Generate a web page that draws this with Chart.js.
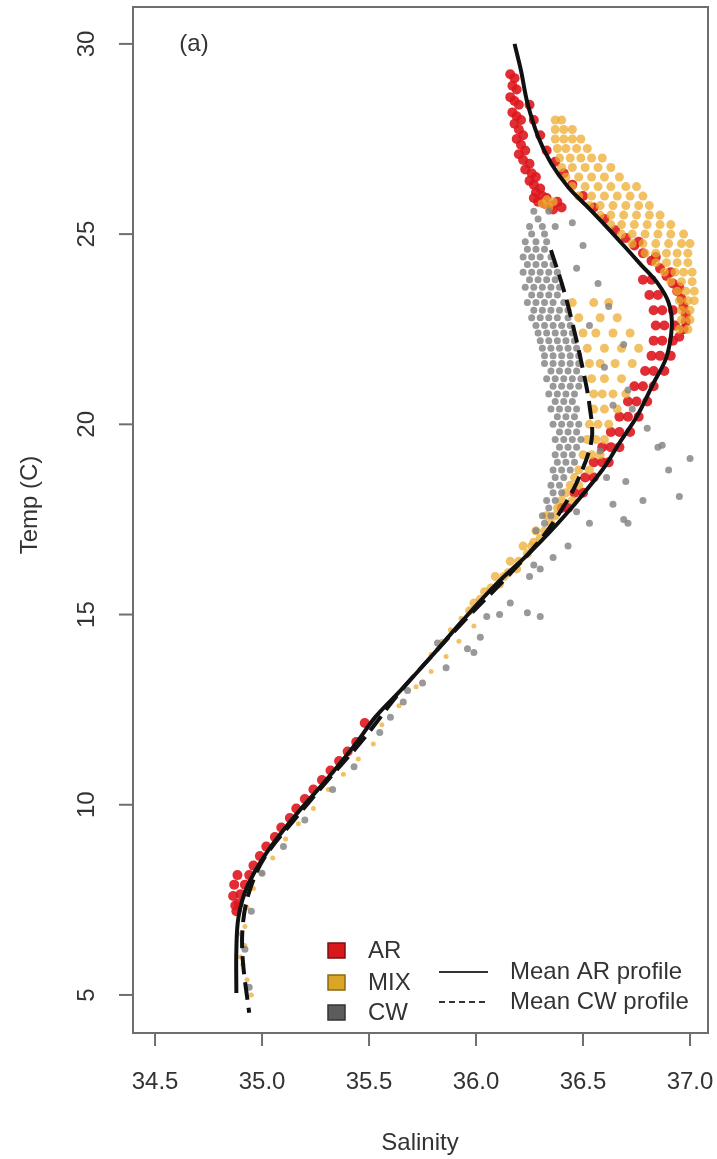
<!DOCTYPE html>
<html>
<head>
<meta charset="utf-8">
<title>T-S diagram (a)</title>
<script src="https://cdn.jsdelivr.net/npm/chart.js@4.4.1/dist/chart.umd.min.js"></script>
<style>
  html, body { margin: 0; padding: 0; background: #fff; }
</style>
</head>
<body>
<canvas id="ts" width="717" height="1159"></canvas>
<script>
// axis ticks
const xTicks = [34.5, 35.0, 35.5, 36.0, 36.5, 37.0];
const yTicks = [5, 10, 15, 20, 25, 30];
const groupNames = ['AR', 'MIX', 'CW'];
const profileNames = ['Mean AR profile', 'Mean CW profile'];

const arObs = [
  [36.16,29.2],[36.18,29.1],[36.17,28.9],[36.19,28.8],[36.16,28.6],[36.18,28.5],[36.20,28.4],[36.17,28.2],
  [36.19,28.1],[36.21,28.0],[36.18,27.9],[36.20,27.75],[36.22,27.6],[36.19,27.5],[36.21,27.35],[36.23,27.2],
  [36.20,27.1],[36.22,26.95],[36.25,26.85],[36.23,26.7],[36.26,26.6],[36.28,26.5],[36.25,26.4],[36.27,26.3],
  [36.30,26.2],[36.28,26.1],[36.31,26.0],[36.33,25.95],[36.29,25.85],[36.32,25.8],[36.35,25.75],[36.38,25.85],
  [36.40,25.7],[36.36,25.65],[36.27,25.95],
  [36.25,28.4],[36.27,28.0],[36.30,27.6],[36.33,27.2],[36.37,26.9],[36.41,26.6],[36.45,26.3],[36.50,26.0],
  [36.55,25.7],[36.60,25.4],[36.65,25.1],
  [36.70,24.9],[36.74,24.7],[36.78,24.5],[36.82,24.3],[36.86,24.1],[36.89,23.9],[36.92,23.7],[36.94,23.5],
  [36.96,23.3],[36.97,23.1],[36.98,22.9],[36.98,22.7],[36.97,22.5],[36.95,22.3],[36.76,24.8],[36.84,24.4],
  [36.91,24.0],[36.95,23.6],
  [36.78,23.8],[36.82,23.8],[36.81,23.4],[36.85,23.4],[36.83,23.0],[36.87,23.0],[36.92,23.0],
  [36.84,22.6],[36.88,22.6],[36.93,22.6],[36.83,22.2],[36.87,22.2],[36.92,22.2],[36.82,21.8],[36.86,21.8],
  [36.91,21.8],[36.79,21.4],[36.83,21.4],[36.88,21.4],[36.74,21.0],[36.78,21.0],[36.83,21.0],[36.71,20.6],
  [36.75,20.6],[36.80,20.6],[36.67,20.2],[36.71,20.2],[36.76,20.2],[36.63,19.8],[36.67,19.8],[36.72,19.8],
  [36.59,19.4],[36.63,19.4],[36.67,19.4],[36.55,19.0],[36.59,19.0],[36.62,19.0],[36.51,18.6],[36.55,18.6],
  [36.46,18.2],[36.50,18.2],[36.40,17.8],[36.43,17.8],
  [35.48,12.15],[35.44,11.65],[35.40,11.4],[35.36,11.15],[35.32,10.9],[35.28,10.65],[35.24,10.4],[35.20,10.15],
  [35.16,9.9],[35.13,9.65],[35.09,9.4],[35.06,9.15],[35.02,8.9],[34.99,8.65],[34.96,8.4],[34.94,8.15],
  [34.92,7.9],[34.90,7.65],[34.89,7.4],[34.88,7.2],[34.865,7.6],[34.87,7.9],[34.885,8.15],[34.875,7.35]
];

const mixObs = [
  [36.37,28.0],[36.40,28.0],[36.37,27.75],[36.41,27.75],[36.45,27.75],
  [36.37,27.5],[36.41,27.5],[36.45,27.5],[36.49,27.5],
  [36.38,27.25],[36.42,27.25],[36.47,27.25],[36.52,27.25],
  [36.39,27.0],[36.44,27.0],[36.49,27.0],[36.54,27.0],[36.59,27.0],
  [36.40,26.75],[36.45,26.75],[36.51,26.75],[36.57,26.75],[36.63,26.75],
  [36.42,26.5],[36.48,26.5],[36.54,26.5],[36.60,26.5],[36.67,26.5],
  [36.45,26.25],[36.51,26.25],[36.57,26.25],[36.63,26.25],[36.70,26.25],[36.75,26.25],
  [36.48,26.0],[36.54,26.0],[36.60,26.0],[36.66,26.0],[36.72,26.0],[36.78,26.0],
  [36.53,25.75],[36.58,25.75],[36.64,25.75],[36.70,25.75],[36.76,25.75],[36.81,25.75],
  [36.58,25.5],[36.63,25.5],[36.69,25.5],[36.75,25.5],[36.81,25.5],[36.86,25.5],
  [36.63,25.25],[36.68,25.25],[36.74,25.25],[36.80,25.25],[36.86,25.25],[36.91,25.25],
  [36.68,25.0],[36.73,25.0],[36.79,25.0],[36.85,25.0],[36.91,25.0],[36.97,25.0],
  [36.73,24.75],[36.78,24.75],[36.84,24.75],[36.90,24.75],[36.96,24.75],[37.00,24.75],
  [36.79,24.5],[36.84,24.5],[36.89,24.5],[36.94,24.5],[36.99,24.5],
  [36.84,24.25],[36.89,24.25],[36.94,24.25],[36.99,24.25],
  [36.88,24.0],[36.93,24.0],[36.97,24.0],[37.01,24.0],
  [36.91,23.75],[36.96,23.75],[37.01,23.75],[36.94,23.5],[36.98,23.5],[37.02,23.5],
  [36.95,23.25],[36.99,23.25],[37.02,23.25],[36.96,23.0],[37.00,23.0],[36.96,22.75],[37.00,22.75],
  [36.95,22.5],[36.99,22.5],
  [36.31,25.8],[36.34,25.7],[36.33,25.9],[36.36,25.85],
  [36.45,23.2],[36.55,23.2],[36.62,23.2],[36.48,22.8],[36.58,22.8],[36.66,22.8],
  [36.50,22.4],[36.56,22.4],[36.64,22.4],[36.72,22.4],[36.52,22.0],[36.60,22.0],[36.68,22.0],[36.76,22.0],
  [36.53,21.6],[36.58,21.6],[36.65,21.6],[36.73,21.6],[36.54,21.2],[36.60,21.2],[36.68,21.2],
  [36.55,20.8],[36.59,20.8],[36.64,20.8],[36.70,20.8],[36.55,20.4],[36.60,20.4],[36.66,20.4],
  [36.53,20.0],[36.57,20.0],[36.62,20.0],[36.52,19.6],[36.56,19.6],[36.60,19.6],
  [36.50,19.2],[36.54,19.2],[36.58,19.2],[36.48,18.8],[36.53,18.8],[36.44,18.4],[36.48,18.4],
  [36.40,18.0],[36.45,18.0],[36.33,17.6],[36.37,17.6],[36.28,17.2],[36.32,17.2],
  [36.22,16.8],[36.26,16.8],[36.16,16.4],[36.20,16.4],[36.09,16.0],[36.13,16.0],[36.04,15.6],[35.99,15.3],
  [36.46,18.6],[36.42,18.2],[36.38,17.8],[36.35,17.4],[36.30,17.0],[36.27,16.9],[36.24,16.6],[36.19,16.2],
  [36.15,16.1],[36.11,15.8],[36.07,15.7],[36.02,15.4],[35.97,15.1],[35.93,14.9],[35.88,14.6],[35.84,14.3],
  [35.79,13.95],
  [35.99,14.7],[35.92,14.3],[35.86,13.9],[35.79,13.5],[35.72,13.1],[35.64,12.6],[35.56,12.1],[35.52,11.6],
  [35.45,11.2],[35.38,10.8],[35.31,10.4],[35.24,9.9],[35.17,9.5],[35.11,9.1],[35.05,8.6],[35.00,8.2],
  [34.96,7.8],[34.93,7.3],[34.92,6.8],[34.92,6.3],[34.91,5.8],[34.93,5.4],[34.95,5.0],[34.89,6.6],[34.90,6.0]
];

const cwObs = [
  [36.27,25.6],[36.34,25.6],[36.25,25.2],[36.31,25.2],[36.37,25.2],[36.23,24.8],[36.28,24.8],[36.33,24.8],
  [36.22,24.4],[36.26,24.4],[36.30,24.4],[36.35,24.4],
  [36.22,24.0],[36.26,24.0],[36.30,24.0],[36.34,24.0],[36.38,24.0],
  [36.23,23.6],[36.27,23.6],[36.31,23.6],[36.35,23.6],[36.39,23.6],
  [36.24,23.2],[36.28,23.2],[36.32,23.2],[36.36,23.2],[36.41,23.2],
  [36.26,22.8],[36.30,22.8],[36.34,22.8],[36.38,22.8],[36.43,22.8],
  [36.29,22.4],[36.33,22.4],[36.37,22.4],[36.41,22.4],[36.45,22.4],
  [36.31,22.0],[36.35,22.0],[36.39,22.0],[36.43,22.0],[36.47,22.0],
  [36.32,21.6],[36.36,21.6],[36.40,21.6],[36.44,21.6],[36.48,21.6],
  [36.33,21.2],[36.37,21.2],[36.41,21.2],[36.45,21.2],[36.49,21.2],
  [36.34,20.8],[36.38,20.8],[36.42,20.8],[36.46,20.8],[36.35,20.4],[36.39,20.4],[36.43,20.4],[36.47,20.4],
  [36.36,20.0],[36.40,20.0],[36.44,20.0],[36.48,20.0],[36.37,19.6],[36.41,19.6],[36.45,19.6],[36.49,19.6],
  [36.37,19.2],[36.41,19.2],[36.45,19.2],[36.36,18.8],[36.40,18.8],[36.44,18.8],
  [36.35,18.4],[36.39,18.4],[36.33,18.0],[36.37,18.0],[36.31,17.6],[36.35,17.6],[36.28,17.2],
  [36.29,25.4],[36.26,25.0],[36.32,25.0],[36.24,24.6],[36.28,24.6],[36.32,24.6],
  [36.24,24.2],[36.28,24.2],[36.32,24.2],[36.36,24.2],[36.25,23.8],[36.29,23.8],[36.33,23.8],[36.37,23.8],
  [36.26,23.4],[36.30,23.4],[36.34,23.4],[36.38,23.4],[36.27,23.0],[36.31,23.0],[36.35,23.0],[36.39,23.0],
  [36.43,23.0],[36.28,22.6],[36.32,22.6],[36.36,22.6],[36.40,22.6],[36.44,22.6],
  [36.30,22.2],[36.34,22.2],[36.38,22.2],[36.42,22.2],[36.46,22.2],[36.32,21.8],[36.36,21.8],[36.40,21.8],
  [36.44,21.8],[36.48,21.8],[36.35,21.4],[36.39,21.4],[36.43,21.4],[36.47,21.4],
  [36.36,21.0],[36.40,21.0],[36.44,21.0],[36.48,21.0],[36.37,20.6],[36.41,20.6],[36.45,20.6],
  [36.38,20.2],[36.42,20.2],[36.46,20.2],[36.39,19.8],[36.43,19.8],[36.47,19.8],
  [36.39,19.4],[36.43,19.4],[36.47,19.4],[36.38,19.0],[36.42,19.0],[36.46,19.0],
  [36.37,18.6],[36.41,18.6],[36.36,18.2],[36.40,18.2],[36.34,17.8],[36.32,17.4],
  [36.45,25.3],[36.50,24.7],[36.47,24.1],[36.57,23.7],[36.62,23.1],[36.53,22.6],[36.69,22.1],[36.60,21.5],
  [36.71,20.9],[36.64,20.5],
  [36.85,19.4],[36.87,19.45],[36.70,18.5],[36.64,17.9],[36.71,17.4],[36.53,17.4],[36.47,17.7],[36.43,16.8],
  [36.36,16.5],[36.30,16.2],[36.27,16.3],[36.25,16.0],[36.16,15.3],[36.24,15.05],[36.30,14.95],[36.11,15.0],
  [36.05,14.95],[36.02,14.4],[35.96,14.1],[35.99,14.0],[35.86,13.6],[35.82,14.25],[36.69,17.5],[36.61,18.6],
  [36.80,19.9],[36.73,20.4],[36.58,19.3],[36.95,18.1],[37.00,19.1],[36.90,18.8],[36.78,18.0],
  [35.75,13.2],[35.66,12.7],[35.55,11.9],[35.43,11.0],[35.33,10.4],[35.20,9.6],[35.10,8.9],[35.00,8.2],
  [34.95,7.2],[34.92,6.2],[34.94,5.2],[35.68,13.0],[35.60,12.3]
];

// mean profiles
const meanArSal  = [36.18, 36.21, 36.24, 36.29, 36.35, 36.43, 36.52, 36.61, 36.69, 36.77, 36.85, 36.90, 36.915, 36.89, 36.83, 36.75, 36.67, 36.59, 36.41, 36.25, 36.10, 35.94, 35.79, 35.65, 35.53, 35.44, 35.30, 35.15, 35.02, 34.93, 34.89, 34.88, 34.88];
const meanArTemp = [30.0, 29.3, 28.45, 27.56, 26.87, 26.24, 25.72, 25.19, 24.7, 24.2, 23.7, 23.2, 22.6, 21.77, 21.09, 20.19, 19.51, 18.80, 17.57, 16.62, 15.83, 14.86, 13.89, 13.02, 12.31, 11.62, 10.65, 9.68, 8.73, 7.84, 7.05, 6.18, 5.05];
const meanCwSal  = [36.35, 36.41, 36.45, 36.50, 36.53, 36.54, 36.47, 36.39, 36.30, 36.14, 35.94, 35.79, 35.645, 35.47, 35.30, 35.15, 35.01, 34.94, 34.91, 34.91, 34.94];
const meanCwTemp = [24.58, 23.53, 22.67, 21.43, 20.51, 19.59, 18.46, 17.67, 16.96, 15.96, 14.81, 13.89, 12.97, 11.70, 10.60, 9.60, 8.60, 7.71, 6.84, 5.92, 4.53];

const toXY = arr => arr.map(p => ({ x: p[0], y: p[1] }));
const lineXY = (xs, ys) => xs.map((v, i) => ({ x: v, y: ys[i] }));

const FONT = '24px "Liberation Sans", Arial, sans-serif';
const TEXT = '#333';

// axes, labels and legend drawn R-style on top of the chart
const frame = {
    id: 'frame',
    afterDraw(chart) {
        const { ctx, chartArea: a, scales: { x, y } } = chart;
        ctx.save();
        ctx.strokeStyle = '#6e6e6e';
        ctx.lineWidth = 2;
        ctx.strokeRect(a.left, a.top, a.right - a.left, a.bottom - a.top);

        ctx.fillStyle = TEXT;
        ctx.font = FONT;
        ctx.textAlign = 'center';
        ctx.textBaseline = 'middle';

        xTicks.forEach(v => {
            const px = x.getPixelForValue(v);
            ctx.beginPath();
            ctx.moveTo(px, a.bottom);
            ctx.lineTo(px, a.bottom + 13);
            ctx.stroke();
            ctx.fillText(v.toFixed(1), px, a.bottom + 49);
        });

        yTicks.forEach(v => {
            const py = y.getPixelForValue(v);
            ctx.beginPath();
            ctx.moveTo(a.left, py);
            ctx.lineTo(a.left - 14, py);
            ctx.stroke();
            ctx.save();
            ctx.translate(a.left - 46, py);
            ctx.rotate(-Math.PI / 2);
            ctx.fillText(String(v), 0, 0);
            ctx.restore();
        });

        // axis titles
        ctx.fillText('Salinity', 420, 1143);
        ctx.save();
        ctx.translate(30, 505);
        ctx.rotate(-Math.PI / 2);
        ctx.fillText('Temp (C)', 0, 0);
        ctx.restore();

        ctx.fillText('(a)', 194, 44);

        // legend
        const fills = ['#d7191c', '#dba628', '#5c5c5c'];
        const edges = ['#7a1010', '#8a6a12', '#333333'];
        const rowsY = [951, 983, 1013];
        ctx.textAlign = 'left';
        groupNames.forEach((name, i) => {
            ctx.fillStyle = fills[i];
            ctx.fillRect(328, rowsY[i] - 8, 17, 15);
            ctx.strokeStyle = edges[i];
            ctx.lineWidth = 1.5;
            ctx.strokeRect(328, rowsY[i] - 8, 17, 15);
            ctx.fillStyle = TEXT;
            ctx.fillText(name, 368, rowsY[i]);
        });
        const linesY = [972, 1002];
        profileNames.forEach((name, i) => {
            ctx.strokeStyle = '#333';
            ctx.lineWidth = 2;
            ctx.setLineDash(i === 1 ? [6, 4] : []);
            ctx.beginPath();
            ctx.moveTo(439, linesY[i]);
            ctx.lineTo(488, linesY[i]);
            ctx.stroke();
            ctx.setLineDash([]);
            ctx.fillStyle = TEXT;
            ctx.fillText(name, 510, linesY[i]);
        });
        ctx.restore();
    }
};

new Chart(document.getElementById('ts'), {
    type: 'scatter',
    data: {
        datasets: [
            {
                label: profileNames[0],
                data: lineXY(meanArSal, meanArTemp),
                showLine: true,
                borderColor: '#111',
                borderWidth: 4,
                pointRadius: 0,
                tension: 0.35,
                order: 1
            },
            {
                label: profileNames[1],
                data: lineXY(meanCwSal, meanCwTemp),
                showLine: true,
                borderColor: '#111',
                borderWidth: 4,
                borderDash: [18, 8],
                pointRadius: 0,
                tension: 0.35,
                order: 2
            },
            {
                label: groupNames[2],
                data: toXY(cwObs),
                backgroundColor: 'rgba(128, 128, 128, 0.8)',
                borderWidth: 0,
                pointRadius: 3.5,
                order: 3
            },
            {
                label: groupNames[1],
                data: toXY(mixObs),
                backgroundColor: 'rgba(236, 172, 48, 0.75)',
                borderWidth: 0,
                // deep-water specks are much finer than the surface plume
                pointRadius: c => (c.raw && c.raw.y < 15 ? 2.5 : 4.5),
                order: 4
            },
            {
                label: groupNames[0],
                data: toXY(arObs),
                backgroundColor: 'rgba(222, 22, 30, 0.9)',
                borderWidth: 0,
                pointRadius: 5,
                order: 5
            }
        ]
    },
    options: {
        responsive: false,
        animation: false,
        layout: { padding: { left: 133, top: 7, right: 9, bottom: 126 } },
        scales: {
            x: { type: 'linear', min: 34.397, max: 37.084, display: false },
            y: { type: 'linear', min: 4.0, max: 30.97, display: false }
        },
        plugins: {
            legend: { display: false },
            tooltip: { enabled: false }
        }
    },
    plugins: [frame]
});
</script>
</body>
</html>
